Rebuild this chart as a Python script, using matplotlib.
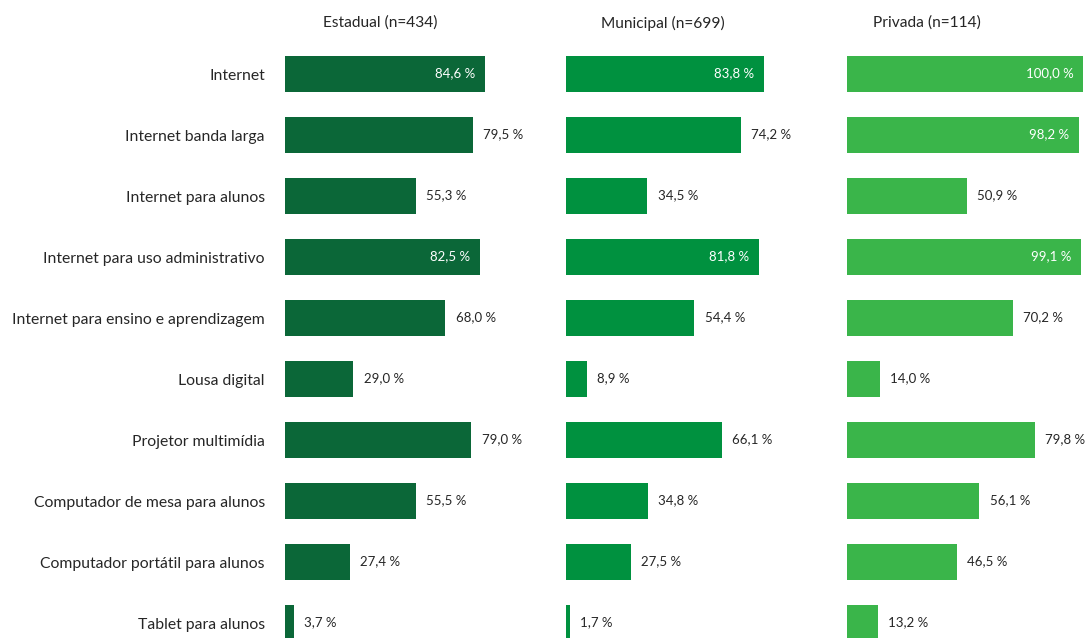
import matplotlib.pyplot as plt

categorias = ['Internet', 'Internet banda larga', 'Internet para alunos',
              'Internet para uso administrativo', 'Internet para ensino e aprendizagem',
              'Lousa digital', 'Projetor multimídia', 'Computador de mesa para alunos',
              'Computador portátil para alunos', 'Tablet para alunos']

estadual = [84.6, 79.5, 55.3, 82.5, 68.0, 29.0, 79.0, 55.5, 27.4, 3.7]
municipal = [83.8, 74.2, 34.5, 81.8, 54.4, 8.9, 66.1, 34.8, 27.5, 1.7]
privada = [100.0, 98.2, 50.9, 99.1, 70.2, 14.0, 79.8, 56.1, 46.5, 13.2]

titulos = ['Estadual (n=434)', 'Municipal (n=699)', 'Privada (n=114)']
cores = ['#0b6738', '#00913f', '#3ab54a']

plt.rcParams['font.family'] = ['Lato', 'DejaVu Sans']

W, H = 1085, 638
fig = plt.figure(figsize=(W / 100, H / 100), dpi=100)

lefts = [285, 566, 847]
title_x = [380, 663, 927]
top, bottom = 43.5, 638
for k, (serie, cor) in enumerate(zip([estadual, municipal, privada], cores)):
    ax = fig.add_axes([lefts[k] / W, 1 - bottom / H, 236 / W, (bottom - top) / H])
    y = range(len(categorias))
    ax.barh(y, serie, height=0.59, color=cor)
    ax.set_xlim(0, 100)
    ax.set_ylim(9 + 15 / 61, -0.5)
    ax.axis('off')
    for i, v in enumerate(serie):
        txt = f'{v:.1f}'.replace('.', ',') + ' %'
        if v >= 80:
            ax.text(v - 4, i - 0.02, txt, ha='right', va='center', color='white', fontsize=9.5)
        else:
            ax.text(v + 4.3, i - 0.02, txt, ha='left', va='center', color='#262626', fontsize=9.5)
    fig.text(title_x[k] / W, 1 - 23 / H, titulos[k], ha='center', va='center',
             color='#262626', fontsize=11.2)
    if k == 0:
        for i, c in enumerate(categorias):
            ax.text(-20 / 2.36, i + 0.03, c, ha='right', va='center', color='#262626',
                    fontsize=11.3)

fig.savefig('out.png', dpi=100)
